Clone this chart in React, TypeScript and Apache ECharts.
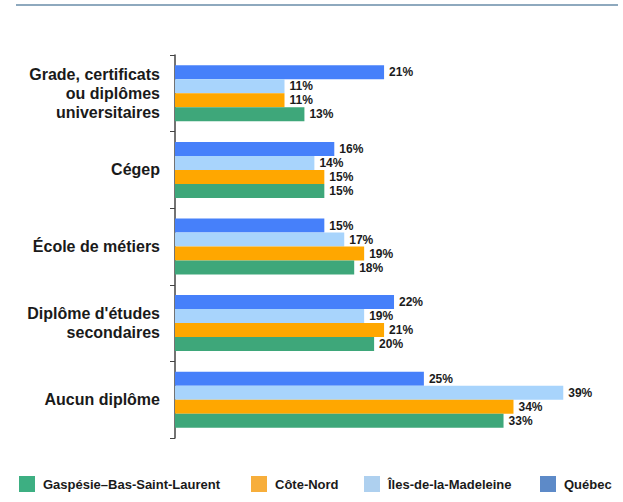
import React, { useEffect, useRef } from "react";
import * as echarts from "echarts";

const categories = [
  "Grade, certificats\nou diplômes\nuniversitaires",
  "Cégep",
  "École de métiers",
  "Diplôme d'études\nsecondaires",
  "Aucun diplôme",
];

const seriesNames = ["Québec", "Îles-de-la-Madeleine", "Côte-Nord", "Gaspésie–Bas-Saint-Laurent"];

const quebec = [21, 16, 15, 22, 25];
const iles = [11, 14, 17, 19, 39];
const coteNord = [11, 15, 19, 21, 34];
const gaspesie = [13, 15, 18, 20, 33];

const legendOrder = ["Gaspésie–Bas-Saint-Laurent", "Côte-Nord", "Îles-de-la-Madeleine", "Québec"];
const legendLefts = [19, 251, 364, 540];

const barColors = ["#4680fa", "#a8d4fc", "#ffa700", "#3ea77a"];
const legendColors: Record<string, string> = {
  "Gaspésie–Bas-Saint-Laurent": "#3daf82",
  "Côte-Nord": "#f7ae3b",
  "Îles-de-la-Madeleine": "#aed0ef",
  "Québec": "#5d8ac8",
};

const FONT = "'Liberation Sans', Arial, Helvetica, sans-serif";

export default function App() {
  const ref = useRef<HTMLDivElement>(null);
  useEffect(() => {
    if (!ref.current) return;
    const chart = echarts.init(ref.current, null, { renderer: "svg" });
    const values = [quebec, iles, coteNord, gaspesie];
    chart.setOption({
      animation: false,
      backgroundColor: "#ffffff",
      textStyle: { fontFamily: FONT },
      graphic: [
        {
          type: "line",
          shape: { x1: 16, y1: 5, x2: 618, y2: 5 },
          style: { stroke: "#8ea9be", lineWidth: 2 },
        },
      ],
      legend: legendOrder.map((n, i) => ({
        left: legendLefts[i],
        top: 476,
        padding: 0,
        itemWidth: 16,
        itemHeight: 16,
        icon: "rect",
        textStyle: { fontFamily: FONT, fontWeight: "bold", fontSize: 13, color: "#1a1a1a", padding: [0, 0, 0, 3] },
        data: [{ name: n, itemStyle: { color: legendColors[n] } }],
      })),
      grid: { left: 175, right: 0, top: 55, bottom: 64, containLabel: false },
      xAxis: {
        type: "value",
        min: 0,
        max: 45,
        show: false,
        splitLine: { show: false },
      },
      yAxis: {
        type: "category",
        inverse: true,
        data: categories,
        axisLine: { show: true, lineStyle: { color: "#444444", width: 1.5 } },
        axisTick: { show: true, length: 5, lineStyle: { color: "#444444", width: 1 } },
        axisLabel: {
          fontFamily: FONT,
          fontWeight: "bold",
          fontSize: 16,
          lineHeight: 19,
          color: "#1a1a1a",
          margin: 15,
          align: "right",
        },
      },
      series: seriesNames.map((name, i) => ({
        name,
        type: "bar",
        data: values[i],
        barWidth: 14,
        barGap: "0%",
        itemStyle: { color: barColors[i] },
        label: {
          show: true,
          position: "right",
          distance: 5,
          formatter: "{c}%",
          fontFamily: FONT,
          fontWeight: "bold",
          fontSize: 12,
          color: "#1a1a1a",
        },
      })),
    });
    return () => chart.dispose();
  }, []);
  return (
    <div
      ref={ref}
      style={{ position: "absolute", left: 0, top: 0, width: 623, height: 502 }}
    />
  );
}
